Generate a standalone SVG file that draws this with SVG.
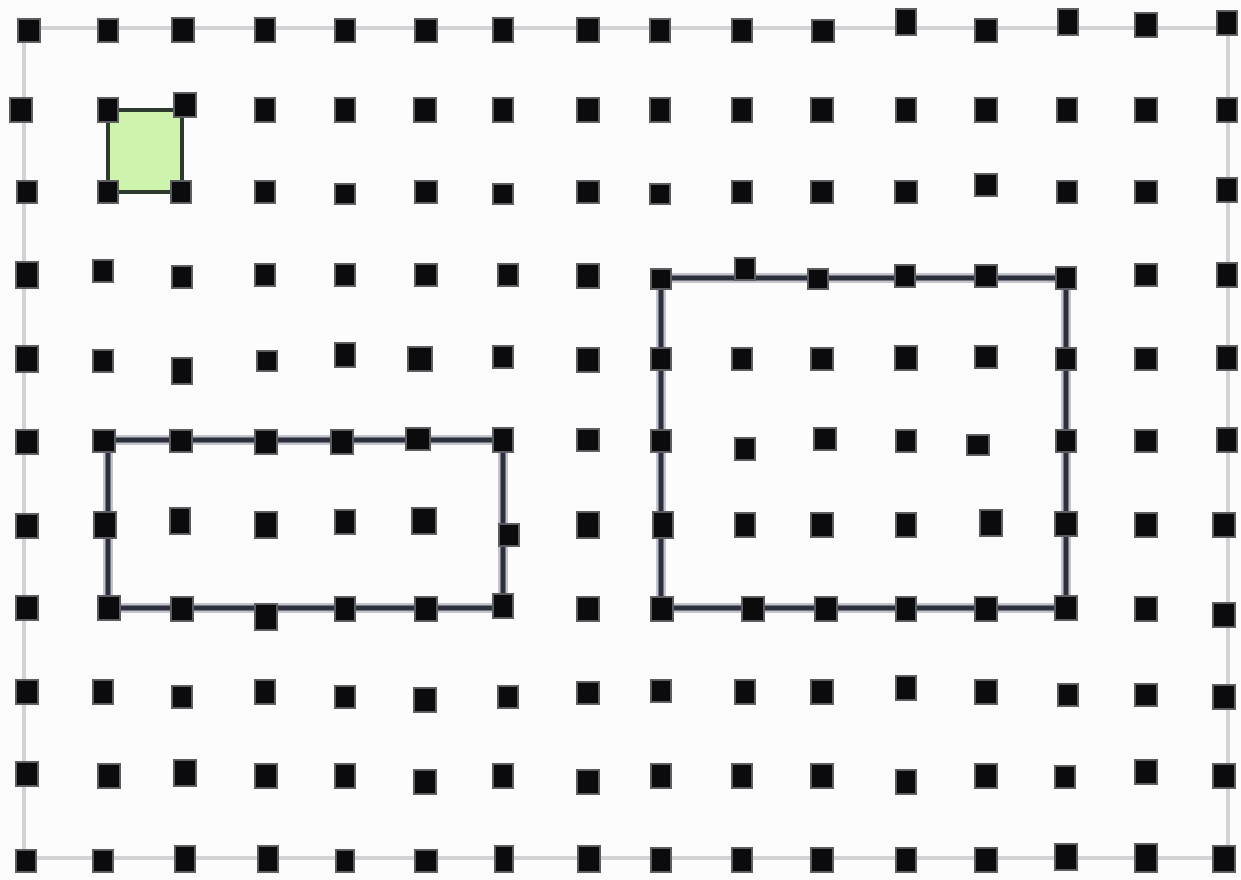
<svg xmlns="http://www.w3.org/2000/svg" width="1241" height="880" viewBox="0 0 1241 880">
<defs>
<style>
.bg{fill:#fdfcfc}
.frame{fill:none;stroke:#d4d2d4;stroke-width:4}
.box{fill:none;stroke:#2c2f3c;stroke-width:5;stroke-linejoin:miter}
.halo{fill:none;stroke:#a9abb6;stroke-width:10;opacity:0.7}
.green{fill:#cdf3ad;stroke:#2d3a2e;stroke-width:4}
.d{fill:#0b0b0d;stroke:#5e5e62;stroke-width:2}
</style>
</defs>
<rect class="bg" x="0" y="0" width="1241" height="880"/>
<g id="connectors">
<path class="frame" d="M24 28 H1228 V858 H24 Z"/>
<path class="halo" d="M108 440 H503 V608 H108 Z"/>
<path class="box" d="M108 440 H503 V608 H108 Z"/>
<path class="halo" d="M661 278 H1066 V608 H661 Z"/>
<path class="box" d="M661 278 H1066 V608 H661 Z"/>
</g>
<g id="cell">
<path class="green" d="M108 110 H182 V192 H108 Z"/>
</g>
<g id="dots">
<g id="r0">
<rect class="d" x="18" y="19" width="22" height="23"/>
<rect class="d" x="98" y="19" width="20" height="23"/>
<rect class="d" x="172" y="18" width="22" height="24"/>
<rect class="d" x="255" y="18" width="20" height="24"/>
<rect class="d" x="335" y="19" width="20" height="23"/>
<rect class="d" x="415" y="19" width="22" height="23"/>
<rect class="d" x="493" y="18" width="20" height="24"/>
<rect class="d" x="577" y="18" width="22" height="24"/>
<rect class="d" x="650" y="19" width="20" height="23"/>
<rect class="d" x="732" y="19" width="20" height="23"/>
<rect class="d" x="812" y="20" width="22" height="22"/>
<rect class="d" x="896" y="9" width="20" height="26"/>
<rect class="d" x="975" y="19" width="22" height="23"/>
<rect class="d" x="1058" y="9" width="20" height="26"/>
<rect class="d" x="1135" y="13" width="22" height="24"/>
<rect class="d" x="1217" y="11" width="20" height="24"/>
</g>
<g id="r1">
<rect class="d" x="10" y="98" width="22" height="24"/>
<rect class="d" x="98" y="98" width="20" height="24"/>
<rect class="d" x="174" y="93" width="22" height="24"/>
<rect class="d" x="255" y="98" width="20" height="24"/>
<rect class="d" x="335" y="98" width="20" height="24"/>
<rect class="d" x="414" y="98" width="22" height="24"/>
<rect class="d" x="493" y="98" width="20" height="24"/>
<rect class="d" x="577" y="98" width="22" height="24"/>
<rect class="d" x="650" y="98" width="20" height="24"/>
<rect class="d" x="732" y="98" width="20" height="24"/>
<rect class="d" x="811" y="98" width="22" height="24"/>
<rect class="d" x="896" y="98" width="20" height="24"/>
<rect class="d" x="975" y="98" width="22" height="24"/>
<rect class="d" x="1057" y="98" width="20" height="24"/>
<rect class="d" x="1135" y="98" width="22" height="24"/>
<rect class="d" x="1217" y="98" width="20" height="24"/>
</g>
<g id="r2">
<rect class="d" x="17" y="181" width="20" height="22"/>
<rect class="d" x="98" y="181" width="20" height="22"/>
<rect class="d" x="171" y="181" width="20" height="22"/>
<rect class="d" x="255" y="181" width="20" height="22"/>
<rect class="d" x="335" y="184" width="20" height="20"/>
<rect class="d" x="415" y="181" width="22" height="22"/>
<rect class="d" x="493" y="184" width="20" height="20"/>
<rect class="d" x="577" y="181" width="22" height="22"/>
<rect class="d" x="650" y="184" width="20" height="20"/>
<rect class="d" x="732" y="181" width="20" height="22"/>
<rect class="d" x="811" y="181" width="22" height="22"/>
<rect class="d" x="895" y="181" width="22" height="22"/>
<rect class="d" x="975" y="174" width="22" height="22"/>
<rect class="d" x="1057" y="181" width="20" height="22"/>
<rect class="d" x="1135" y="181" width="22" height="22"/>
<rect class="d" x="1217" y="178" width="20" height="24"/>
</g>
<g id="r3">
<rect class="d" x="16" y="262" width="22" height="26"/>
<rect class="d" x="93" y="260" width="20" height="22"/>
<rect class="d" x="172" y="266" width="20" height="22"/>
<rect class="d" x="255" y="264" width="20" height="22"/>
<rect class="d" x="335" y="264" width="20" height="22"/>
<rect class="d" x="415" y="264" width="22" height="22"/>
<rect class="d" x="498" y="264" width="20" height="22"/>
<rect class="d" x="577" y="264" width="22" height="24"/>
<rect class="d" x="651" y="269" width="20" height="20"/>
<rect class="d" x="735" y="258" width="20" height="22"/>
<rect class="d" x="808" y="269" width="20" height="20"/>
<rect class="d" x="895" y="265" width="20" height="22"/>
<rect class="d" x="975" y="265" width="22" height="22"/>
<rect class="d" x="1056" y="267" width="20" height="22"/>
<rect class="d" x="1135" y="264" width="22" height="22"/>
<rect class="d" x="1217" y="263" width="20" height="24"/>
</g>
<g id="r4">
<rect class="d" x="16" y="346" width="22" height="26"/>
<rect class="d" x="93" y="350" width="20" height="22"/>
<rect class="d" x="172" y="358" width="20" height="26"/>
<rect class="d" x="257" y="351" width="20" height="20"/>
<rect class="d" x="335" y="343" width="20" height="24"/>
<rect class="d" x="408" y="347" width="24" height="24"/>
<rect class="d" x="493" y="346" width="20" height="22"/>
<rect class="d" x="577" y="348" width="22" height="24"/>
<rect class="d" x="651" y="348" width="20" height="22"/>
<rect class="d" x="732" y="348" width="20" height="22"/>
<rect class="d" x="811" y="348" width="22" height="22"/>
<rect class="d" x="895" y="346" width="22" height="24"/>
<rect class="d" x="975" y="346" width="22" height="22"/>
<rect class="d" x="1056" y="348" width="20" height="22"/>
<rect class="d" x="1135" y="348" width="22" height="22"/>
<rect class="d" x="1217" y="346" width="20" height="24"/>
</g>
<g id="r5">
<rect class="d" x="16" y="430" width="22" height="24"/>
<rect class="d" x="93" y="430" width="22" height="22"/>
<rect class="d" x="170" y="430" width="22" height="22"/>
<rect class="d" x="255" y="430" width="22" height="24"/>
<rect class="d" x="331" y="430" width="22" height="24"/>
<rect class="d" x="406" y="428" width="24" height="22"/>
<rect class="d" x="493" y="428" width="20" height="24"/>
<rect class="d" x="577" y="429" width="22" height="22"/>
<rect class="d" x="651" y="430" width="20" height="22"/>
<rect class="d" x="735" y="438" width="20" height="22"/>
<rect class="d" x="814" y="428" width="22" height="22"/>
<rect class="d" x="896" y="430" width="20" height="22"/>
<rect class="d" x="967" y="435" width="22" height="20"/>
<rect class="d" x="1056" y="430" width="20" height="22"/>
<rect class="d" x="1135" y="430" width="22" height="22"/>
<rect class="d" x="1217" y="428" width="20" height="24"/>
</g>
<g id="r6">
<rect class="d" x="16" y="514" width="22" height="24"/>
<rect class="d" x="94" y="512" width="22" height="26"/>
<rect class="d" x="170" y="508" width="20" height="26"/>
<rect class="d" x="255" y="512" width="22" height="26"/>
<rect class="d" x="335" y="510" width="20" height="24"/>
<rect class="d" x="412" y="508" width="24" height="26"/>
<rect class="d" x="499" y="524" width="20" height="22"/>
<rect class="d" x="577" y="512" width="22" height="26"/>
<rect class="d" x="653" y="512" width="20" height="26"/>
<rect class="d" x="735" y="513" width="20" height="24"/>
<rect class="d" x="811" y="513" width="22" height="24"/>
<rect class="d" x="896" y="513" width="20" height="24"/>
<rect class="d" x="980" y="510" width="22" height="26"/>
<rect class="d" x="1055" y="512" width="22" height="24"/>
<rect class="d" x="1135" y="513" width="22" height="24"/>
<rect class="d" x="1213" y="513" width="22" height="24"/>
</g>
<g id="r7">
<rect class="d" x="16" y="596" width="22" height="24"/>
<rect class="d" x="98" y="596" width="22" height="24"/>
<rect class="d" x="171" y="597" width="22" height="24"/>
<rect class="d" x="255" y="604" width="22" height="26"/>
<rect class="d" x="335" y="597" width="20" height="24"/>
<rect class="d" x="415" y="597" width="22" height="24"/>
<rect class="d" x="493" y="594" width="20" height="24"/>
<rect class="d" x="577" y="597" width="22" height="24"/>
<rect class="d" x="651" y="597" width="22" height="24"/>
<rect class="d" x="742" y="597" width="22" height="24"/>
<rect class="d" x="815" y="597" width="22" height="24"/>
<rect class="d" x="896" y="597" width="20" height="24"/>
<rect class="d" x="975" y="597" width="22" height="24"/>
<rect class="d" x="1055" y="596" width="22" height="24"/>
<rect class="d" x="1135" y="597" width="22" height="24"/>
<rect class="d" x="1213" y="603" width="22" height="24"/>
</g>
<g id="r8">
<rect class="d" x="16" y="680" width="22" height="24"/>
<rect class="d" x="93" y="680" width="20" height="24"/>
<rect class="d" x="172" y="686" width="20" height="22"/>
<rect class="d" x="255" y="680" width="20" height="24"/>
<rect class="d" x="335" y="686" width="20" height="22"/>
<rect class="d" x="414" y="688" width="22" height="24"/>
<rect class="d" x="498" y="686" width="20" height="22"/>
<rect class="d" x="577" y="682" width="22" height="22"/>
<rect class="d" x="651" y="680" width="20" height="22"/>
<rect class="d" x="735" y="680" width="20" height="24"/>
<rect class="d" x="811" y="680" width="22" height="24"/>
<rect class="d" x="896" y="676" width="20" height="24"/>
<rect class="d" x="975" y="680" width="22" height="24"/>
<rect class="d" x="1058" y="684" width="20" height="22"/>
<rect class="d" x="1135" y="684" width="22" height="22"/>
<rect class="d" x="1213" y="685" width="22" height="24"/>
</g>
<g id="r9">
<rect class="d" x="16" y="762" width="22" height="24"/>
<rect class="d" x="98" y="764" width="22" height="24"/>
<rect class="d" x="174" y="760" width="22" height="26"/>
<rect class="d" x="255" y="764" width="22" height="24"/>
<rect class="d" x="335" y="764" width="20" height="24"/>
<rect class="d" x="414" y="770" width="22" height="24"/>
<rect class="d" x="493" y="764" width="20" height="24"/>
<rect class="d" x="577" y="770" width="22" height="24"/>
<rect class="d" x="651" y="764" width="20" height="24"/>
<rect class="d" x="732" y="764" width="20" height="24"/>
<rect class="d" x="811" y="764" width="22" height="24"/>
<rect class="d" x="896" y="770" width="20" height="24"/>
<rect class="d" x="975" y="764" width="22" height="24"/>
<rect class="d" x="1055" y="766" width="20" height="22"/>
<rect class="d" x="1135" y="760" width="22" height="24"/>
<rect class="d" x="1213" y="764" width="22" height="24"/>
</g>
<g id="r10">
<rect class="d" x="16" y="850" width="20" height="22"/>
<rect class="d" x="93" y="850" width="20" height="22"/>
<rect class="d" x="175" y="846" width="20" height="26"/>
<rect class="d" x="258" y="846" width="20" height="26"/>
<rect class="d" x="336" y="850" width="18" height="22"/>
<rect class="d" x="415" y="850" width="22" height="22"/>
<rect class="d" x="495" y="846" width="18" height="26"/>
<rect class="d" x="578" y="846" width="22" height="26"/>
<rect class="d" x="651" y="848" width="20" height="24"/>
<rect class="d" x="732" y="848" width="20" height="24"/>
<rect class="d" x="811" y="848" width="22" height="24"/>
<rect class="d" x="896" y="848" width="20" height="24"/>
<rect class="d" x="975" y="848" width="22" height="24"/>
<rect class="d" x="1055" y="844" width="22" height="26"/>
<rect class="d" x="1135" y="844" width="22" height="28"/>
<rect class="d" x="1213" y="846" width="22" height="26"/>
</g>
</g>
</svg>
